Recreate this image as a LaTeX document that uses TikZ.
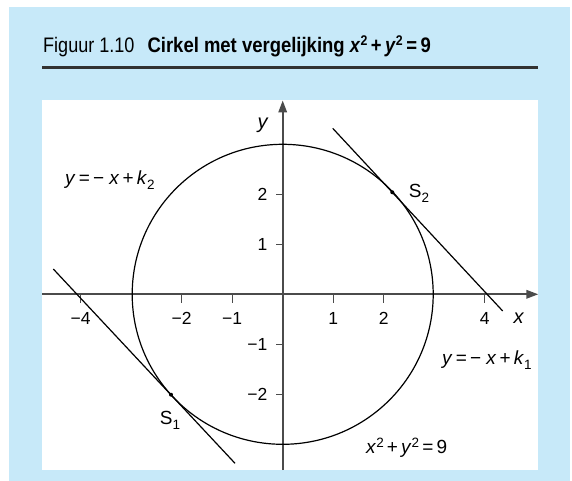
\documentclass[tikz,border=0pt]{standalone}
\usepackage{fontspec}
\setmainfont[FakeStretch=0.86,BoldFeatures={FakeStretch=0.88}]{Liberation Sans}
\newfontfamily\labfont{Liberation Sans}
\usetikzlibrary{arrows.meta}
\definecolor{panelblue}{RGB}{199,233,249}
\definecolor{axisgray}{RGB}{75,75,75}
\definecolor{rulegray}{RGB}{50,50,50}
\newcommand\mysub[1]{\raisebox{-5pt}{\fontsize{13.5}{14}\selectfont #1}}
\newcommand\mysup[1]{\raisebox{6.5pt}{\fontsize{13.5}{14}\selectfont #1}}
\newcommand\tsup[1]{\raisebox{7pt}{\fontsize{14}{14}\selectfont #1}}
\begin{document}
\begin{tikzpicture}[x=1pt,y=-1pt,
  axisline/.style={draw=axisgray,line width=1.9pt},
  tickline/.style={draw=axisgray,line width=1.2pt},
  curveline/.style={draw=black,line width=1.2pt},
  ticklab/.style={inner sep=0pt,font=\labfont\fontsize{17.5}{19}\selectfont},
  eqlab/.style={inner sep=0pt,font=\labfont\fontsize{19}{21}\selectfont},
  varlab/.style={inner sep=0pt,font=\labfont\fontsize{20}{22}\selectfont\itshape},
  dotstyle/.style={fill=black}]
\useasboundingbox (0,0) rectangle (572,481);
% background
\fill[panelblue] (9,7) rectangle (570,481);
\fill[white] (42,100) rectangle (538,470);
% title
\coordinate (rl) at (42,67.7);
\coordinate (rr) at (538,67.7);
\draw[draw=rulegray,line width=2.4pt] (rl) -- (rr);
\node[anchor=base west,inner sep=0pt,font=\fontsize{21}{24}\selectfont] (title) at (43,52.7)
  {Figuur 1.10\hspace{13pt}\textbf{Cirkel met vergelijking \textit{x}\tsup{2}\,+\,\textit{y}\tsup{2}\,=\,9}};
% axes
\coordinate (O) at (282.7,294.3);
\coordinate (xl) at (42,294.3);
\coordinate (xr) at (538.3,294.3);
\coordinate (yb) at (282.7,470);
\coordinate (yt) at (282.7,100.5);
\draw[axisline,-{Triangle[length=12pt,width=8.5pt]}] (xl) -- (xr);
\draw[axisline,-{Triangle[length=12pt,width=8.5pt]}] (yb) -- (yt);
% ticks
\foreach \k/\t [count=\i] in {-4/−4,-2/−2,-1/−1,1/1,2/2,4/4}{
  \coordinate (xa\i) at (282.7+\k*50.5,294.3);
  \coordinate (xb\i) at (282.7+\k*50.5,302.8);
  \draw[tickline] (xa\i) -- (xb\i);
  \node[ticklab] (xlab\i) at (282.7+\k*50.5,318.5) {\t};
}
\foreach \k/\t [count=\i] in {2/2,1/1,-1/−1,-2/−2}{
  \coordinate (ya\i) at (282.7,294.3-\k*50);
  \coordinate (yb\i) at (275.5,294.3-\k*50);
  \draw[tickline] (ya\i) -- (yb\i);
  \node[ticklab,anchor=east] (ylab\i) at (267.5,294.3-\k*50) {\t};
}
\node[varlab] (ylabel) at (262.5,125) {y};
\node[varlab] (xlabel) at (518.5,318) {x};
% circle
\draw[curveline] (O) circle[x radius=150.5,y radius=150];
% tangent lines
\coordinate (Ta) at (332.7,128.3);
\coordinate (Tb) at (502.7,311);
\coordinate (Ua) at (53.3,269);
\coordinate (Ub) at (235,463.3);
\coordinate (S2) at (392.3,192.3);
\coordinate (S1) at (171,394.7);
\draw[curveline] (Ta) -- (Tb);
\draw[curveline] (Ua) -- (Ub);
\fill[dotstyle] (S2) circle[radius=2];
\fill[dotstyle] (S1) circle[radius=2];
\node[eqlab] (s2lab) at (419,193) {S\mysub{2}};
\node[eqlab] (s1lab) at (170,420) {S\mysub{1}};
% equations
\node[eqlab,anchor=west] (eq2) at (65,180) {\textit{y}\,=\,−\;\textit{x}\,+\,\textit{k}\mysub{2}};
\node[eqlab,anchor=west] (eq1) at (442,360) {\textit{y}\,=\,−\;\textit{x}\,+\,\textit{k}\mysub{1}};
\node[eqlab,anchor=west] (eqc) at (366,448) {\textit{x}\mysup{2}\,+\,\textit{y}\mysup{2}\,=\,9};
\end{tikzpicture}
\end{document}
